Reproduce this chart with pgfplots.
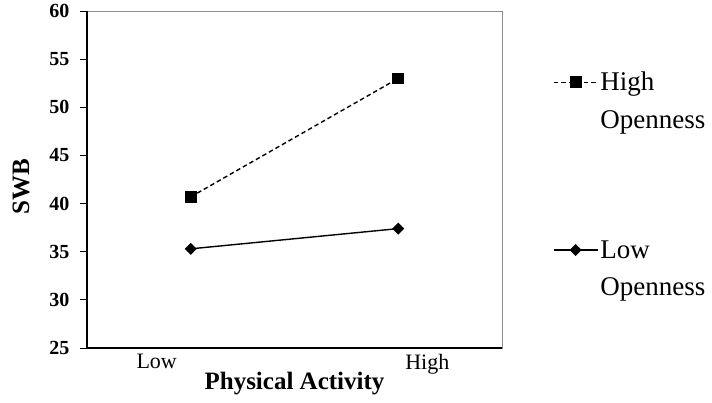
\documentclass[border=0pt]{standalone}
\usepackage{pgfplots}
\pgfplotsset{compat=1.18}
\usepackage{fontspec}
\setmainfont{Liberation Serif}
\newcommand{\twoline}[2]{\makebox[0pt][l]{\raisebox{-37.5pt}[0pt][0pt]{#2}}#1}
\begin{document}
\begin{tikzpicture}
\path[use as bounding box] (-87pt,-54pt) rectangle (625pt,348pt);
\begin{axis}[
  scale only axis, width=415pt, height=337pt,
  clip=false,
  xmin=-0.5, xmax=1.5, ymin=25, ymax=60,
  ytick={25,30,...,60},
  xtick={-0.164,1.14}, xticklabels={Low,High},
  xtick style={draw=none},
  ytick pos=left, ytick align=outside, major tick length=7pt,
  ytick style={black, line width=0.8pt},
  axis line style={black!45, line width=0.9pt},
  /pgf/number format/assume math mode=true,
  yticklabel style={font=\fontsize{20}{22}\selectfont\bfseries, xshift=-7pt},
  xticklabel style={font=\fontsize{22}{24}\selectfont, yshift=-3pt},
  xlabel={\textbf{Physical Activity}},
  ylabel={\textbf{SWB}},
  label style={font=\fontsize{25}{28}\selectfont},
  xlabel style={at={(axis description cs:0.5,-0.106)}, anchor=center},
  ylabel style={at={(axis description cs:-0.159,0.48)}, anchor=center},
  legend style={draw=none, fill=none, at={(1.115,0.831)}, anchor=north west,
    font=\fontsize{27}{30}\selectfont, row sep=144pt},
  legend cell align=left,
  legend image code/.code={\draw[mark repeat=2,mark phase=2,#1] plot coordinates {(0pt,0pt)(22pt,0pt)(44pt,0pt)};},
]
\draw[black, line width=1.5pt] (rel axis cs:0,1) -- (rel axis cs:0,0) -- (rel axis cs:1,0);
\addplot[black, line width=1.4pt, dash pattern=on 4.5pt off 3pt, mark=square*, mark size=5.2pt, mark options={solid}]
  coordinates {(0,40.7) (1,53.0)};
\addplot[black, line width=1.4pt, mark=square*, mark size=3.5pt, mark options={rotate=45}]
  coordinates {(0,35.3) (1,37.4)};
\legend{{\twoline{High}{Openness}},{\twoline{Low}{Openness}}}
\end{axis}
\end{tikzpicture}
\end{document}
